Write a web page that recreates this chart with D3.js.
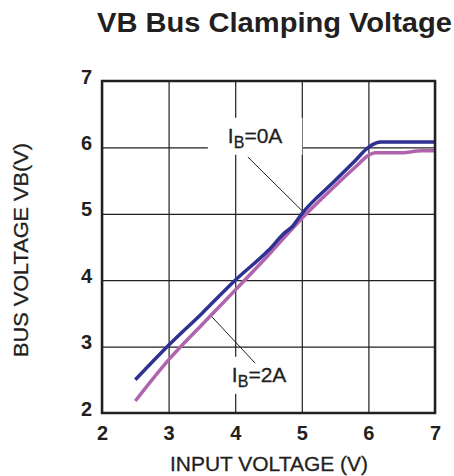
<!DOCTYPE html>
<html>
<head>
<meta charset="utf-8">
<script src="https://cdn.jsdelivr.net/npm/d3@7"></script>
<style>
  body { margin: 0; background: #fff; }
  text { font-family: "Liberation Sans", Arial, sans-serif; fill: #231f20; }
</style>
</head>
<body>
<div id="chart"></div>
<script>
// curve data
const inputV0A = [2.5, 3, 3.5, 4, 4.5, 4.75, 4.85, 5, 5.5, 5.8, 6, 6.1, 6.2, 7];
const busV0A   = [2.5, 3.02, 3.5, 4.0, 4.45, 4.72, 4.8, 5.0, 5.5, 5.8, 6.0, 6.06, 6.08, 6.08];
const inputV2A = [2.5, 3, 3.5, 4, 4.5, 5, 5.5, 5.8, 6.0, 6.1, 6.5, 6.8, 7];
const busV2A   = [2.18, 2.8, 3.33, 3.85, 4.38, 4.93, 5.42, 5.7, 5.88, 5.92, 5.92, 5.95, 5.95];
const xTicks = [2, 3, 4, 5, 6, 7];
const yTicks = [2, 3, 4, 5, 6, 7];

const W = 454, H = 476;
const margin = { top: 81, right: 19, bottom: 63, left: 102 };
const width = W - margin.left - margin.right;
const height = H - margin.top - margin.bottom;

const svg = d3.select("#chart").append("svg")
  .attr("width", W)
  .attr("height", H);

// title
svg.append("text")
  .attr("x", 97).attr("y", 32)
  .attr("font-size", "28px")
  .attr("font-weight", "bold")
  .attr("textLength", 355)
  .attr("lengthAdjust", "spacingAndGlyphs")
  .text("VB Bus Clamping Voltage");

const g = svg.append("g")
  .attr("transform", `translate(${margin.left},${margin.top})`);

const x = d3.scaleLinear().domain([2, 7]).range([0, width]);
const y = d3.scaleLinear().domain([2, 7]).range([height, 0]);

// grid
g.append("g")
  .attr("transform", `translate(0,${height})`)
  .call(d3.axisBottom(x).tickValues(xTicks).tickSize(-height).tickFormat(""))
  .call(a => a.select(".domain").remove())
  .selectAll("line").attr("stroke", "#231f20").attr("stroke-width", 1.2);

g.append("g")
  .call(d3.axisLeft(y).tickValues(yTicks).tickSize(-width).tickFormat(""))
  .call(a => a.select(".domain").remove())
  .selectAll("line").attr("stroke", "#231f20").attr("stroke-width", 1.2);

// tick labels
g.append("g")
  .attr("transform", `translate(0,${height})`)
  .call(d3.axisBottom(x).tickValues(xTicks).tickSize(0).tickPadding(13).tickFormat(d3.format("d")))
  .call(a => a.select(".domain").remove())
  .selectAll("text")
  .attr("font-size", "20px").attr("font-weight", "bold")
  .attr("font-family", "Liberation Sans, Arial, sans-serif").attr("fill", "#231f20");

g.append("g")
  .call(d3.axisLeft(y).tickValues(yTicks).tickSize(0).tickPadding(10).tickFormat(d3.format("d")))
  .call(a => a.select(".domain").remove())
  .selectAll("text")
  .attr("dy", "0.1em")
  .attr("font-size", "20px").attr("font-weight", "bold")
  .attr("font-family", "Liberation Sans, Arial, sans-serif").attr("fill", "#231f20");

// labels: white box over the grid, then the leader line
function label(tx, ty, current, padX, lx, ly) {
  const box = g.append("rect").attr("fill", "#fff");
  const t = g.append("text")
    .attr("x", x(tx)).attr("y", y(ty))
    .attr("font-size", "21px")
    .attr("stroke", "#231f20").attr("stroke-width", 0.3);
  t.append("tspan").text("I");
  t.append("tspan").attr("font-size", "16px").attr("dy", 5).text("B");
  t.append("tspan").attr("dy", -5).text("=" + current);
  const b = t.node().getBBox();
  box.attr("x", b.x - padX).attr("y", b.y - 6)
    .attr("width", b.width + 2 * padX).attr("height", b.height + 10);
  g.append("line")
    .attr("x1", x(lx[0])).attr("y1", y(ly[0]))
    .attr("x2", x(lx[1])).attr("y2", y(ly[1]))
    .attr("stroke", "#231f20").attr("stroke-width", 1);
}
label(3.89, 6.07, "0A", 20, [4.19, 5.02], [5.855, 5.03]);
label(3.95, 2.47, "2A", 13, [3.64, 4.3], [3.46, 2.75]);

// curves
const line = d3.line().x(d => x(d[0])).y(d => y(d[1])).curve(d3.curveMonotoneX);

g.append("path")
  .datum(d3.zip(inputV2A, busV2A))
  .attr("fill", "none")
  .attr("stroke", "#b064ae")
  .attr("stroke-width", 3.5)
  .attr("d", line);

g.append("path")
  .datum(d3.zip(inputV0A, busV0A))
  .attr("fill", "none")
  .attr("stroke", "#2e3192")
  .attr("stroke-width", 3.5)
  .attr("d", line);

// frame
g.append("rect")
  .attr("width", width).attr("height", height)
  .attr("fill", "none")
  .attr("stroke", "#231f20")
  .attr("stroke-width", 2.5);

// axis titles
svg.append("text")
  .attr("transform", `translate(28,${250}) rotate(-90)`)
  .attr("text-anchor", "middle")
  .attr("font-size", "21px")
  .attr("stroke", "#231f20").attr("stroke-width", 0.3)
  .attr("textLength", 214)
  .attr("lengthAdjust", "spacingAndGlyphs")
  .text("BUS VOLTAGE VB(V)");

svg.append("text")
  .attr("x", 269).attr("y", 471)
  .attr("text-anchor", "middle")
  .attr("font-size", "21px")
  .attr("stroke", "#231f20").attr("stroke-width", 0.3)
  .attr("textLength", 198)
  .attr("lengthAdjust", "spacingAndGlyphs")
  .text("INPUT VOLTAGE (V)");
</script>
</body>
</html>
